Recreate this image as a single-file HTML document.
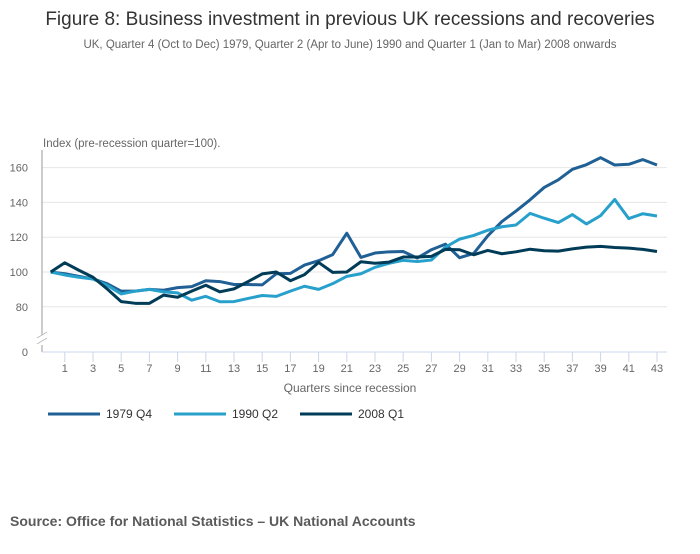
<!DOCTYPE html>
<html><head><meta charset="utf-8"><style>
body{margin:0;background:#fff;font-family:"Liberation Sans",sans-serif;}
</style></head><body>
<svg width="700" height="549" xmlns="http://www.w3.org/2000/svg" font-family="Liberation Sans, sans-serif">
<text x="350" y="25" text-anchor="middle" font-size="19" fill="#333">Figure 8: Business investment in previous UK recessions and recoveries</text>
<text x="350" y="48" text-anchor="middle" font-size="11.5" fill="#666">UK, Quarter 4 (Oct to Dec) 1979, Quarter 2 (Apr to June) 1990 and Quarter 1 (Jan to Mar) 2008 onwards</text>
<text x="43" y="147" font-size="11.5" fill="#666">Index (pre-recession quarter=100).</text>
<g id="grid"></g>
<g id="axes"></g>
<g id="series"></g>
<text x="350" y="392" text-anchor="middle" font-size="12" fill="#666">Quarters since recession</text>
<g id="legend"></g>
<text x="10" y="526" font-size="14" font-weight="bold" fill="#5a5a5a">Source: Office for National Statistics – UK National Accounts</text>
</svg>
<script>
const yTicks=[80,100,120,140,160];
const seriesNames=["1979 Q4","1990 Q2","2008 Q1"];
const s1979=[100,99,97.5,96,93.3,89,89,90,89.5,91,91.6,95,94.5,92.8,92.8,92.6,99,99.2,104,106.5,110,122.3,108.4,110.9,111.6,111.8,108,112.8,116,108.2,110.7,120.8,129,135,141.5,148.6,153,159,161.7,165.7,161.5,161.9,164.6,161.5];
const s1990=[100,98.3,97,96,92.4,87.4,89,90,88.6,88,83.8,86,82.9,83,84.8,86.5,86,89,91.8,90,93.3,97.5,99,102.7,105,106.7,106,106.9,114.3,118.9,121,124,126,127,133.7,130.9,128.4,133,127.6,132.4,141.7,130.7,133.5,132.2];
const s2008=[100,105.3,101,97,90.3,83,82,82,86.7,85.5,89,92.4,88.6,90.3,94.5,98.9,100,95,98.5,105.5,99.8,100,105.9,105,105.7,108.6,108.6,109,113,112.8,109.9,112.4,110.5,111.6,113.1,112.2,112,113.3,114.3,114.7,114.1,113.7,113,111.8];
const colors=["#206095","#27a0cc","#003c57"];
const NS="http://www.w3.org/2000/svg";
const xs=q=>50.7+q*14.1;
const ys=v=>272-(v-100)*1.74;
function mk(t,a,p){const e=document.createElementNS(NS,t);for(const k in a)e.setAttribute(k,a[k]);p.appendChild(e);return e;}
const grid=document.getElementById('grid'),axes=document.getElementById('axes'),ser=document.getElementById('series'),leg=document.getElementById('legend');
yTicks.forEach(v=>{
 const l=mk('line',{x1:42,x2:667,y1:ys(v),y2:ys(v),stroke:'#e6e6e6','stroke-width':1},grid);
 
 
 const t=mk('text',{x:28,y:ys(v)+4,'text-anchor':'end','font-size':11,fill:'#666'},grid);t.textContent=v;
 
 
});
const z=mk('text',{x:28,y:356,'text-anchor':'end','font-size':11,fill:'#666'},grid);z.textContent='0';


mk('line',{x1:42,x2:42,y1:150,y2:335,stroke:'#999','stroke-width':1},axes);
mk('line',{x1:42,x2:42,y1:345,y2:352,stroke:'#999','stroke-width':1},axes);
mk('line',{x1:37,x2:47,y1:338,y2:332,stroke:'#bbb','stroke-width':1},axes);
mk('line',{x1:37,x2:47,y1:344,y2:338,stroke:'#bbb','stroke-width':1},axes);
const xa=mk('line',{x1:42,x2:667,y1:352,y2:352,stroke:'#ccd6eb','stroke-width':1},axes);


for(let q=1;q<=43;q+=2){
 mk('line',{x1:xs(q),x2:xs(q),y1:352,y2:362,stroke:'#ccd6eb'},axes);
 const t=mk('text',{x:xs(q),y:372,'text-anchor':'middle','font-size':11,fill:'#666'},axes);t.textContent=q;
 
 
}
[s1979,s1990,s2008].forEach((s,i)=>{
 const p=mk('polyline',{points:s.map((v,q)=>xs(q)+','+ys(v)).join(' '),fill:'none',stroke:colors[i],'stroke-width':3,'stroke-linejoin':'round'},ser);
 
 
 const lx=[48,174,300][i];
 const g=mk('g',{},leg);
 
 
 mk('line',{x1:lx,x2:lx+52,y1:414,y2:414,stroke:colors[i],'stroke-width':3},g);
 const t=mk('text',{x:lx+58,y:418,'font-size':12,fill:'#333'},g);t.textContent=seriesNames[i];
});
</script>
</body></html>
